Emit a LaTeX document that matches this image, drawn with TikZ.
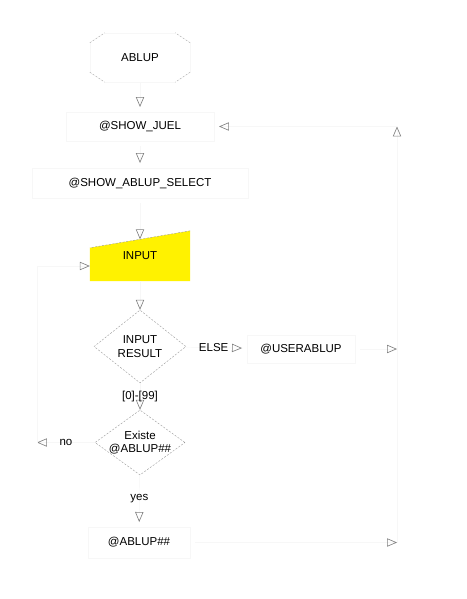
\documentclass[tikz,border=0pt]{standalone}
\usepackage{fontspec}
\setmainfont{Liberation Sans}
\usetikzlibrary{arrows}
\usetikzlibrary{calc}
\usetikzlibrary{backgrounds}
\usetikzlibrary{decorations.markings}
\usetikzlibrary{shapes.geometric}
\tikzset{flow/.style = {draw = black!3,
                        decoration={markings,
                                    mark=at position 1 with {\arrow[gray, scale=1.6]{open triangle 45}}},
                        postaction={decorate}}}
\tikzset{dashedge/.style = {gray!80, dashed, dash pattern=on 2pt off 1.5pt}}
\tikzset{startbox/.style = {minimum width = 100pt, minimum height = 49pt, inner sep = 0}}
\tikzset{procbox/.style = {draw = black!3, minimum height = 29pt, inner sep = 0, outer sep = 5pt}}
\tikzset{inputbox/.style = {minimum width = 100pt, minimum height = 50pt, inner sep = 0}}
\tikzset{decision/.style = {diamond, dashedge, draw, minimum width = 92pt, minimum height = 73pt, inner sep = 0}}
\tikzset{lbl/.style = {inner sep = 2pt}}

\begin{document}
\begin{tikzpicture}[x = 1pt, y = -1pt, font = \fontsize{11.5}{13.5}\selectfont]
    \useasboundingbox (0, 0) rectangle (466, 599);
    % start
    \node at (140, 57.5) [startbox] (ablup) {ABLUP};
    \draw [black!3] ($(ablup.north west) + (15, 0)$) -- ($(ablup.north east) + (-15, 0)$)
                    ($(ablup.north east) + (0, 10)$) -- ($(ablup.south east) + (0, -10)$)
                    ($(ablup.south east) + (-15, 0)$) -- ($(ablup.south west) + (15, 0)$)
                    ($(ablup.south west) + (0, -10)$) -- ($(ablup.north west) + (0, 10)$);
    \foreach \c/\dx/\dy in {north west/15/10, north east/-15/10, south west/15/-10, south east/-15/-10}
        \draw [dashedge] ($(ablup.\c) + (0, \dy)$) -- ($(ablup.\c) + (\dx, 0)$);
    % boxes
    \node at (140, 126.5) [procbox, minimum width = 148pt] (juel) {@SHOW\_JUEL};
    \node at (140, 183) [procbox, minimum width = 216pt, minimum height = 30pt] (select) {@SHOW\_ABLUP\_SELECT};
    \node at (140, 256) [inputbox] (input) {INPUT};
    \begin{scope}[on background layer]
        \fill [white] (0, 0) rectangle (466, 599);
        \fill [yellow] (input.south west) -- (input.south east) -- (input.north east)
                       -- ($(input.north west) + (0, 17)$) -- cycle;
    \end{scope}
    \draw [dashedge] (input.north east) -- ($(input.north west) + (0, 17)$);
    \coordinate (intop) at ($(input.north) + (0, 8.5)$);
    \node at (140, 346.5) [decision] (result) {};
    \node at (result) [align = center] (resulttxt) {INPUT\\RESULT};
    \node at (301, 349) [procbox, minimum width = 108pt, minimum height = 28pt] (user) {@USERABLUP};
    \node at (140, 442.5) [decision, minimum width = 90pt, minimum height = 65pt] (exists) {};
    \node at (exists) [align = center] (existstxt) {Existe\\@ABLUP\#\#};
    \node at (139, 542.5) [procbox, minimum width = 102pt, minimum height = 31pt] (found) {@ABLUP\#\#};
    % loop corners
    \coordinate (rtop) at (397, 126.5);
    \coordinate (rmid) at (397, 349);
    \coordinate (rbot) at (397, 542.5);
    \coordinate (lbot) at (37, 442.5);
    \coordinate (ltop) at (37, 266);
    % connectors
    \draw [flow] (ablup) -- (juel);
    \draw [flow] (juel) -- (select);
    \draw [flow] (select) -- (intop);
    \draw [flow] (input) -- (result);
    \draw [flow] (result) -- node [lbl] (range) {[0]-[99]} (exists);
    \draw [flow] (result) -- node [lbl] (else) {ELSE} (user);
    \draw [flow] (exists) -- node [lbl] (yes) {yes} (found);
    \draw [flow] (exists) -- node [lbl] (no) {no} (lbot);
    \draw [black!3] (lbot) -- (ltop);
    \draw [flow] (ltop) -- (input.west |- ltop);
    \draw [flow] (user) -- (rmid);
    \draw [flow] (found) -- (rbot);
    \draw [flow] (rbot) -- (rtop);
    \draw [flow] (rtop) -- (juel);
\end{tikzpicture}
\end{document}
